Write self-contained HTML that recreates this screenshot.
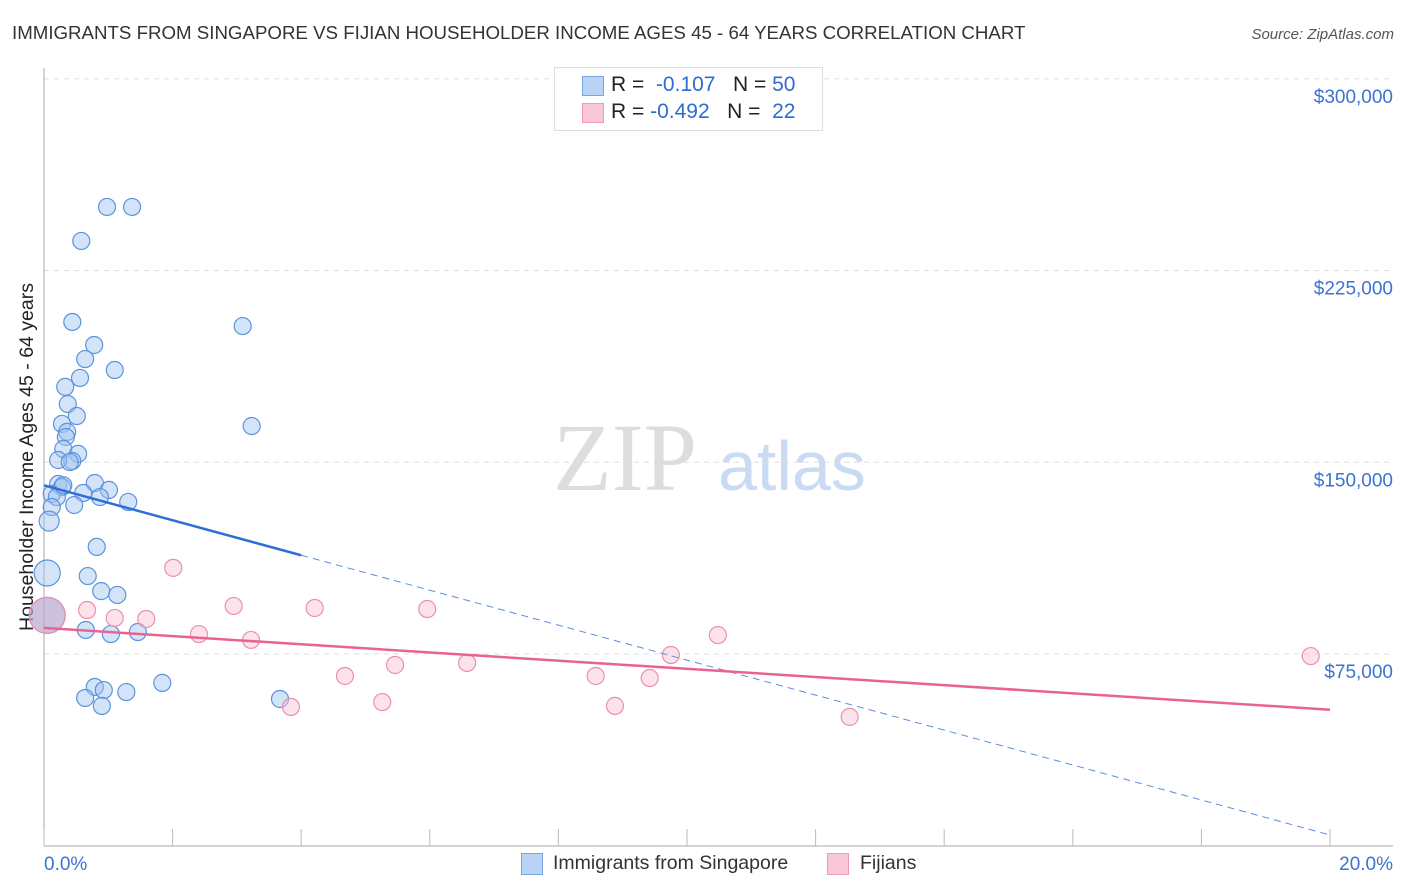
<!DOCTYPE html>
<html><head><meta charset="utf-8"><style>
body{margin:0;background:#fff;font-family:"Liberation Sans",sans-serif;}
#wrap{position:relative;width:1406px;height:892px;overflow:hidden;}
</style></head><body><div id="wrap">
<svg id="svg" width="1406" height="892" xmlns="http://www.w3.org/2000/svg">
<text x="12" y="39" font-size="18.7" fill="#333">IMMIGRANTS FROM SINGAPORE VS FIJIAN HOUSEHOLDER INCOME AGES 45 - 64 YEARS CORRELATION CHART</text>
<text x="1394" y="39" font-size="15" fill="#555" font-style="italic" text-anchor="end">Source: ZipAtlas.com</text>
<text x="33" y="457" font-size="19.5" fill="#222" text-anchor="middle" transform="rotate(-90 33 457)">Householder Income Ages 45 - 64 years</text>
<g><text x="553" y="490" font-size="96" fill="#ddd" font-family="Liberation Serif,serif">ZIP</text><text x="718" y="490" font-size="70" fill="#c9daf2">atlas</text></g>
<g id="grid"></g><g id="marks"></g>
</svg>
<div style="position:absolute;left:554px;top:67px;width:267px;height:62px;border:1px solid #ddd;background:#fff">
<div style="position:absolute;left:27px;top:8px;width:20px;height:18px;background:#b9d3f5;border:1px solid #7aa7e3"></div>
<div style="position:absolute;left:56px;top:5px;font-size:21px;color:#222;white-space:pre">R =  <span style="color:#2f6bd0">-0.107</span>   N = <span style="color:#2f6bd0">50</span></div>
<div style="position:absolute;left:27px;top:35px;width:20px;height:18px;background:#f9c8d6;border:1px solid #ee9ab3"></div>
<div style="position:absolute;left:56px;top:32px;font-size:21px;color:#222;white-space:pre">R = <span style="color:#2f6bd0">-0.492</span>   N =  <span style="color:#2f6bd0">22</span></div>
</div>
<div style="position:absolute;left:521px;top:853px;width:20px;height:20px;background:#b9d3f5;border:1px solid #7aa7e3"></div>
<div style="position:absolute;left:553px;top:852px;font-size:19.5px;color:#333">Immigrants from Singapore</div>
<div style="position:absolute;left:827px;top:853px;width:20px;height:20px;background:#f9c8d6;border:1px solid #ee9ab3"></div>
<div style="position:absolute;left:860px;top:852px;font-size:19.5px;color:#333">Fijians</div>
</div>
<script>
const yTicks=[75000,150000,225000,300000];
const yTickLabels=["$75,000","$150,000","$225,000","$300,000"];
const blueX=[0.98,1.37,0.58,0.44,3.09,0.78,0.64,1.10,0.56,0.33,0.37,0.51,3.23,0.28,0.36,0.34,0.30,0.53,0.44,0.22,0.40,0.22,0.28,0.79,1.01,0.61,0.12,0.87,0.20,1.31,0.47,0.12,0.08,0.82,0.05,0.68,0.89,1.14,0.65,1.04,1.46,1.84,0.79,0.93,1.28,0.64,3.67,0.90,0.05,0.30];
const blueY=[249.9,249.9,236.6,204.9,203.3,195.9,190.4,186.1,183.0,179.5,172.8,168.1,164.2,165.0,161.9,159.9,155.2,153.3,150.5,150.9,150.1,141.5,140.3,141.9,139.2,138.0,137.6,136.4,136.4,134.5,133.3,132.5,127.0,116.9,106.7,105.5,99.6,98.1,84.4,82.8,83.6,63.7,62.1,60.9,60.1,57.8,57.4,54.7,90.1,141.0];
const blueR=[8.5,8.5,8.5,8.5,8.5,8.5,8.5,8.5,8.5,8.5,8.5,8.5,8.5,8.5,8.5,8.5,8.5,8.5,8.5,8.5,8.5,8.5,8.5,8.5,8.5,8.5,8.5,8.5,8.5,8.5,8.5,8.5,10,8.5,13,8.5,8.5,8.5,8.5,8.5,8.5,8.5,8.5,8.5,8.5,8.5,8.5,8.5,18,8.5];
const pinkX=[2.01,0.67,1.10,1.59,2.95,4.21,5.96,2.41,3.22,10.48,9.75,19.70,5.46,6.58,4.68,8.58,9.42,5.26,3.84,8.88,12.53,0.05];
const pinkY=[108.7,92.2,89.1,88.7,93.8,93.0,92.6,82.8,80.5,82.4,74.6,74.2,70.7,71.5,66.4,66.4,65.6,56.2,54.3,54.7,50.4,90.1];
const blueTrend=[141.0,4.2];
const pinkTrend=[85.2,53.2];
const NS="http://www.w3.org/2000/svg";
const X0=44,XPX=64.3,Y0=845.7,YPX=191.7/75000;
function sx(p){return X0+p*XPX;}
function sy(v){return Y0-v*YPX;}
function mk(tag,attrs,parent){const e=document.createElementNS(NS,tag);for(const k in attrs)e.setAttribute(k,attrs[k]);parent.appendChild(e);return e;}
const g=document.getElementById('grid'),m=document.getElementById('marks');
yTicks.forEach((t,i)=>{
 const l=mk('line',{x1:44,x2:1393,y1:sy(t),y2:sy(t),stroke:'#ddd','stroke-dasharray':'5,5'},g);
 
 
 const tx=mk('text',{x:1393,y:sy(t)+24,'font-size':19,fill:'#3b73d1','text-anchor':'end'},g);
 tx.textContent=yTickLabels[i];
 
 
});
let ax=mk('line',{x1:44,x2:44,y1:68,y2:846,stroke:'#aaa'},g);


ax=mk('line',{x1:44,x2:1393,y1:846,y2:846,stroke:'#aaa'},g);


for(let p=0;p<=20;p+=2){const t=mk('line',{x1:sx(p),x2:sx(p),y1:829,y2:846,stroke:'#bbb'},g);
 
 }
let xl=mk('text',{x:44,y:870,'font-size':19,fill:'#3b73d1'},g);xl.textContent='0.0%';


xl=mk('text',{x:1393,y:870,'font-size':19,fill:'#3b73d1','text-anchor':'end'},g);xl.textContent='20.0%';


blueX.forEach((x,i)=>{const c=mk('circle',{cx:sx(x),cy:sy(blueY[i]*1000),r:blueR[i],fill:'rgba(160,196,240,0.45)',stroke:'#5b93dd','stroke-width':1.2},m);
 
 });
pinkX.forEach((x,i)=>{const c=mk('circle',{cx:sx(x),cy:sy(pinkY[i]*1000),r:i==21?18:8.5,fill:i==21?'rgba(200,150,190,0.45)':'rgba(248,190,208,0.45)',stroke:'#eb90ad','stroke-width':1.2},m);
 
 });
function by(p){return blueTrend[0]+(blueTrend[1]-blueTrend[0])*p/20;}
let tl=mk('line',{x1:sx(0),y1:sy(by(0)*1000),x2:sx(4),y2:sy(by(4)*1000),stroke:'#2d6fd6','stroke-width':2.5},m);


tl=mk('line',{x1:sx(4),y1:sy(by(4)*1000),x2:sx(20),y2:sy(by(20)*1000),stroke:'#5b8fdc','stroke-width':1,'stroke-dasharray':'7,5'},m);


tl=mk('line',{x1:sx(0),y1:sy(pinkTrend[0]*1000),x2:sx(20),y2:sy(pinkTrend[1]*1000),stroke:'#e8648f','stroke-width':2.5},m);


</script>
</body></html>
